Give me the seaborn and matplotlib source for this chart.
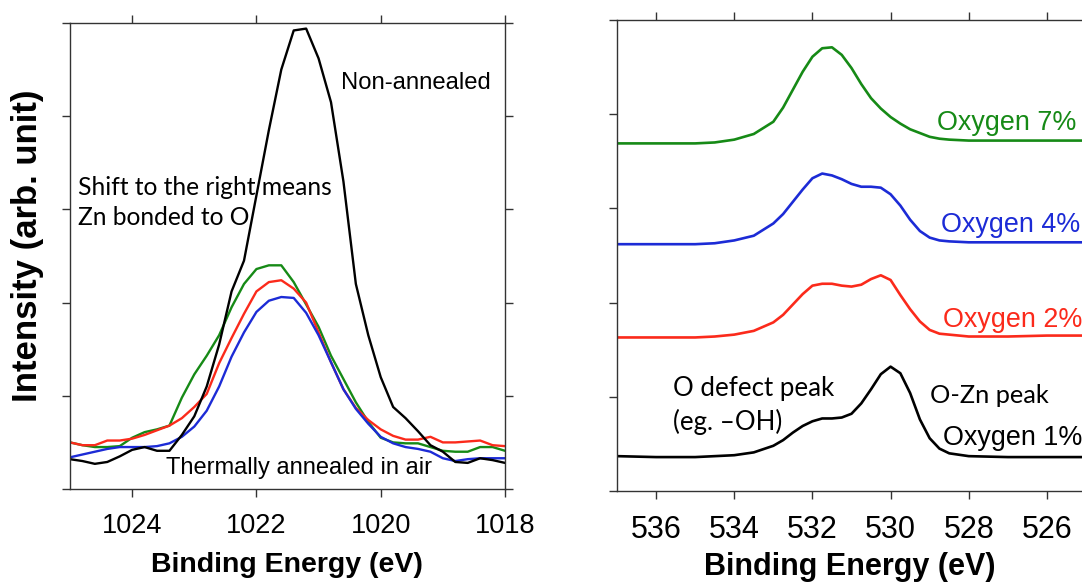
import numpy as np
import pandas as pd
import matplotlib
matplotlib.use("Agg")
import matplotlib.pyplot as plt
import seaborn as sns

# ---------------- data: Zn 2p (left panel) ----------------
zn_energy = [1025.0, 1024.8, 1024.6, 1024.4, 1024.2, 1024.0, 1023.8, 1023.6, 1023.4, 1023.2,
             1023.0, 1022.8, 1022.6, 1022.4, 1022.2, 1022.0, 1021.8, 1021.6, 1021.4, 1021.2,
             1021.0, 1020.8, 1020.6, 1020.4, 1020.2, 1020.0, 1019.8, 1019.6, 1019.4, 1019.2,
             1019.0, 1018.8, 1018.6, 1018.4, 1018.2, 1018.0]
zn_non_annealed = [0.32, 0.30, 0.27, 0.29, 0.35, 0.42, 0.45, 0.41, 0.41, 0.58,
                   0.78, 1.10, 1.55, 2.12, 2.45, 3.15, 3.85, 4.50, 4.92, 4.94,
                   4.62, 4.15, 3.30, 2.20, 1.65, 1.20, 0.88, 0.76, 0.62, 0.47,
                   0.40, 0.29, 0.28, 0.33, 0.31, 0.28]
zn_green = [0.50, 0.47, 0.45, 0.45, 0.46, 0.55, 0.61, 0.64, 0.68, 0.98,
            1.23, 1.43, 1.65, 1.95, 2.20, 2.36, 2.40, 2.40, 2.22, 1.98,
            1.74, 1.43, 1.18, 0.93, 0.72, 0.55, 0.50, 0.49, 0.49, 0.45,
            0.41, 0.40, 0.40, 0.45, 0.45, 0.41]
zn_red = [0.50, 0.47, 0.47, 0.52, 0.52, 0.54, 0.58, 0.63, 0.68, 0.76,
          0.88, 1.02, 1.35, 1.62, 1.88, 2.12, 2.22, 2.24, 2.15, 2.00,
          1.68, 1.36, 1.07, 0.87, 0.74, 0.64, 0.57, 0.53, 0.53, 0.56,
          0.50, 0.50, 0.51, 0.52, 0.47, 0.46]
zn_blue = [0.34, 0.37, 0.40, 0.43, 0.45, 0.45, 0.45, 0.46, 0.49, 0.56,
           0.67, 0.84, 1.10, 1.42, 1.68, 1.90, 2.02, 2.06, 2.05, 1.89,
           1.65, 1.36, 1.07, 0.86, 0.70, 0.56, 0.49, 0.45, 0.43, 0.40,
           0.33, 0.30, 0.32, 0.33, 0.33, 0.33]
zn_xticks = [1024, 1022, 1020, 1018]

# ---------------- data: O 1s (right panel) ----------------
o_energy = [537.0, 536.0, 535.0, 534.5, 534.0, 533.5, 533.0, 532.75, 532.5, 532.25,
            532.0, 531.75, 531.5, 531.25, 531.0, 530.75, 530.5, 530.25, 530.0, 529.75,
            529.5, 529.25, 529.0, 528.75, 528.5, 528.0, 527.0, 526.0, 525.0]
o_7 = [3.69, 3.69, 3.69, 3.70, 3.73, 3.79, 3.92, 4.07, 4.26, 4.45,
       4.61, 4.70, 4.71, 4.63, 4.49, 4.32, 4.17, 4.06, 3.97, 3.90,
       3.84, 3.80, 3.76, 3.74, 3.73, 3.72, 3.72, 3.72, 3.72]
o_4 = [2.62, 2.62, 2.62, 2.63, 2.66, 2.71, 2.84, 2.94, 3.07, 3.20,
       3.32, 3.37, 3.35, 3.31, 3.26, 3.23, 3.23, 3.22, 3.15, 3.03,
       2.88, 2.76, 2.69, 2.66, 2.65, 2.64, 2.64, 2.64, 2.64]
o_2 = [1.63, 1.63, 1.63, 1.64, 1.66, 1.70, 1.79, 1.87, 1.98, 2.09,
       2.18, 2.20, 2.20, 2.18, 2.17, 2.19, 2.25, 2.29, 2.24, 2.08,
       1.93, 1.80, 1.71, 1.67, 1.66, 1.64, 1.64, 1.65, 1.65]
o_1 = [0.37, 0.36, 0.36, 0.37, 0.38, 0.41, 0.48, 0.54, 0.62, 0.69,
       0.74, 0.77, 0.77, 0.78, 0.82, 0.93, 1.08, 1.24, 1.32, 1.25,
       1.04, 0.76, 0.56, 0.45, 0.40, 0.37, 0.36, 0.36, 0.36]
o_xticks = [536, 534, 532, 530, 528, 526]

GREEN = "#168a16"
BLUE = "#1c2bd6"
RED = "#fb2a1b"
BLACK = "#000000"

sns.set_theme(style="ticks")
plt.rcParams["font.family"] = ["Liberation Sans", "DejaVu Sans"]
plt.rcParams["text.color"] = "black"
plt.rcParams["axes.labelcolor"] = "black"

fig = plt.figure(figsize=(10.82, 5.84), dpi=100)
W, H = 1082.0, 584.0
axL = fig.add_axes([70 / W, (H - 489) / H, 435 / W, 466 / H])
axR = fig.add_axes([617 / W, (H - 491) / H, 469 / W, 471 / H])

for vals, col in [(zn_green, GREEN), (zn_red, RED), (zn_blue, BLUE), (zn_non_annealed, BLACK)]:
    sns.lineplot(x=zn_energy, y=vals, color=col, lw=1.7, ax=axL, sort=False,
                 solid_joinstyle="round")

for vals, col in [(o_7, GREEN), (o_4, BLUE), (o_2, RED), (o_1, BLACK)]:
    sns.lineplot(x=o_energy, y=vals, color=col, lw=1.9, ax=axR, sort=False,
                 solid_joinstyle="round")

axL.set_xlim(1025, 1018)
axL.set_ylim(0, 5)
axR.set_xlim(537, 525)
axR.set_ylim(0, 5)

for ax, ticks, fs in [(axL, zn_xticks, 19.5), (axR, o_xticks, 22)]:
    ax.set_xticks(ticks)
    ax.set_xticklabels([str(t) for t in ticks], fontsize=fs)
    ax.set_yticks([0, 1, 2, 3, 4, 5])
    ax.set_yticklabels([])
    ax.set_xlabel("")
    ax.set_ylabel("")
    for s in ax.spines.values():
        s.set_color("#333333")
        s.set_linewidth(1.0)
    ax.tick_params(axis="both", direction="out", length=6, width=1.0, color="#333333",
                   labelcolor="black", top=True, pad=11)

axL.tick_params(axis="y", right=True)
axR.tick_params(axis="y", right=False)

# axis titles
fig.text(28 / W, 1 - 246 / H, "Intensity (arb. unit)", rotation=90, ha="center", va="center",
         fontsize=25, fontweight="bold")
fig.text(287 / W, 1 - 565 / H, "Binding Energy (eV)", ha="center", va="center",
         fontsize=20.5, fontweight="bold")
fig.text(850 / W, 1 - 567 / H, "Binding Energy (eV)", ha="center", va="center",
         fontsize=22, fontweight="bold")

# annotations left
axL.text(1020.64, 4.36, "Non-annealed", fontsize=17.2, ha="left", va="center")
axL.text(1024.87, 3.24, "Shift to the right means", fontsize=17.7, ha="left", va="center",
         family=["Lato", "DejaVu Sans"])
axL.text(1024.87, 2.91, "Zn bonded to O", fontsize=17.7, ha="left", va="center",
         family=["Lato", "DejaVu Sans"])
axL.text(1023.45, 0.23, "Thermally annealed in air", fontsize=17, ha="left", va="center")

# annotations right
axR.text(528.82, 3.91, "Oxygen 7%", color=GREEN, fontsize=19.4, ha="left", va="center")
axR.text(528.72, 2.82, "Oxygen 4%", color=BLUE, fontsize=19.4, ha="left", va="center")
axR.text(528.67, 1.81, "Oxygen 2%", color=RED, fontsize=19.4, ha="left", va="center")
axR.text(528.67, 0.56, "Oxygen 1%", color=BLACK, fontsize=19.4, ha="left", va="center")
axR.text(528.99, 1.01, "O-Zn peak", fontsize=18.3, ha="left", va="center",
         family=["Lato", "DejaVu Sans"])
axR.text(535.57, 1.09, "O defect peak", fontsize=18.6, ha="left", va="center",
         family=["Lato", "DejaVu Sans"])
axR.text(535.57, 0.73, "(eg. \u2013OH)", fontsize=18.6, ha="left", va="center",
         family=["Lato", "DejaVu Sans"])

fig.savefig("out.png", dpi=100)
